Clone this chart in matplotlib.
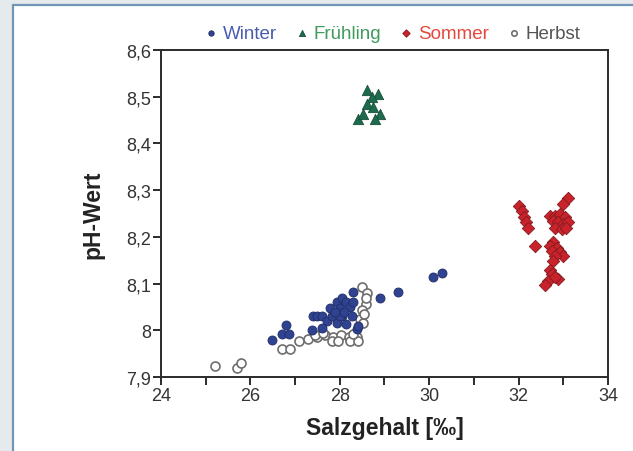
import matplotlib
matplotlib.use("Agg")
import matplotlib.pyplot as plt
from matplotlib.patches import Rectangle

plt.rcParams["font.family"] = ["Liberation Sans", "DejaVu Sans"]

# Winter (filled blue circles)
winter_x = [26.48, 26.80, 26.71, 26.87, 27.40, 27.48, 27.38, 27.60, 27.71, 27.78,
            27.82, 27.93, 27.93, 28.00, 28.04, 28.04, 28.15, 28.15, 28.23, 28.27,
            28.30, 28.30, 28.38, 28.41, 27.60, 28.90, 29.31, 30.09, 30.29, 28.00,
            27.90, 28.10]
winter_y = [7.980, 8.011, 7.992, 7.992, 8.031, 8.031, 8.001, 8.031, 8.020, 8.047,
            8.031, 8.060, 8.016, 8.047, 8.070, 8.031, 8.060, 8.013, 8.050, 8.031,
            8.060, 8.081, 8.003, 8.009, 8.005, 8.070, 8.081, 8.113, 8.122, 8.030,
            8.040, 8.040]

# Frühling (green triangles)
spring_x = [28.60, 28.86, 28.71, 28.60, 28.75, 28.40, 28.53, 28.90, 28.79]
spring_y = [8.514, 8.506, 8.499, 8.484, 8.477, 8.452, 8.463, 8.462, 8.452]

# Sommer (red diamonds)
summer_x = [32.00, 32.08, 32.12, 32.16, 32.20, 32.37, 33.10, 33.00, 32.70, 32.81,
            32.93, 33.04, 32.78, 32.89, 33.00, 33.11, 32.81, 32.96, 33.07, 32.78,
            32.70, 32.85, 32.74, 32.93, 33.00, 32.81, 32.78, 32.70, 32.74, 32.66,
            32.60, 32.89, 32.81]
summer_y = [8.265, 8.256, 8.242, 8.231, 8.220, 8.181, 8.284, 8.270, 8.245, 8.245,
            8.249, 8.242, 8.235, 8.231, 8.227, 8.231, 8.220, 8.217, 8.220, 8.188,
            8.181, 8.177, 8.170, 8.167, 8.160, 8.160, 8.149, 8.130, 8.120, 8.105,
            8.098, 8.109, 8.115]

# Herbst (open circles)
autumn_x = [25.21, 25.69, 25.80, 26.70, 26.89, 27.09, 27.29, 27.48, 27.66, 27.84,
            28.02, 28.20, 28.38, 27.44, 27.63, 27.82, 28.23, 28.41, 28.49, 28.60,
            28.58, 28.49, 28.45, 28.52, 28.30, 28.58, 28.55, 27.95]
autumn_y = [7.924, 7.920, 7.931, 7.960, 7.960, 7.978, 7.981, 7.985, 7.990, 7.985,
            7.990, 7.985, 7.985, 7.990, 7.995, 7.978, 7.978, 7.978, 8.093, 8.080,
            8.056, 8.044, 8.024, 8.016, 7.992, 8.070, 8.035, 7.978]

x_ticks = [24, 26, 28, 30, 32, 34]
x_minor = [25, 27, 29, 31, 33]
y_ticks = [7.9, 8.0, 8.1, 8.2, 8.3, 8.4, 8.5, 8.6]
y_labels = ["7,9", "8", "8,1", "8,2", "8,3", "8,4", "8,5", "8,6"]

fig = plt.figure(figsize=(6.33, 4.52), dpi=100, facecolor="#e5eaec")
fig.add_artist(Rectangle((13 / 633, -0.01), 1.0, 1 - 6 / 452 + 0.01,
                         transform=fig.transFigure, facecolor="white",
                         edgecolor="#7196b6", linewidth=1.6, zorder=0))

ax = fig.add_axes([0.2543, 0.1637, 0.7062, 0.7235])
ax.set_facecolor("white")

ax.scatter(winter_x, winter_y, s=42, marker="o", facecolor="#2f4391",
           edgecolor="#202c66", linewidth=0.6, label="Winter", zorder=3)
ax.scatter(autumn_x, autumn_y, s=42, marker="o", facecolor="white",
           edgecolor="#6e6e6e", linewidth=1.2, label="Herbst", zorder=2)
ax.scatter(spring_x, spring_y, s=55, marker="^", facecolor="#1d6b4c",
           edgecolor="#174f3a", linewidth=0.6, label="Frühling", zorder=3)
ax.scatter(summer_x, summer_y, s=40, marker="D", facecolor="#c8232b",
           edgecolor="#861a20", linewidth=0.6, label="Sommer", zorder=3)

ax.set_xlim(24, 34)
ax.set_ylim(7.9, 8.6)
ax.set_xticks(x_ticks)
ax.set_xticks(x_minor, minor=True)
ax.set_yticks(y_ticks)
ax.set_yticklabels(y_labels)

for s in ax.spines.values():
    s.set_color("#2b2b2b")
    s.set_linewidth(1.4)
ax.tick_params(which="both", direction="out", length=6, width=1.4,
               color="#2b2b2b", labelsize=13, labelcolor="#333333", pad=1)

ax.set_xlabel("Salzgehalt [‰]", fontsize=16.5, fontweight="bold",
              color="#222222", labelpad=9)
ax.set_ylabel("pH-Wert", fontsize=16.5, fontweight="bold",
              color="#222222", labelpad=16)

h, l = ax.get_legend_handles_labels()
order = [0, 2, 3, 1]
leg = fig.legend([h[i] for i in order], [l[i] for i in order], ncol=4,
                 loc="center", bbox_to_anchor=(0.617, 0.923), frameon=False,
                 fontsize=13.5, handletextpad=0.05, columnspacing=0.8,
                 markerscale=0.6, handlelength=1.1)
for t, c in zip(leg.get_texts(), ["#4a5cae", "#3e9a5d", "#e5473f", "#555555"]):
    t.set_color(c)

fig.savefig("out.png", dpi=100, facecolor=fig.get_facecolor())
